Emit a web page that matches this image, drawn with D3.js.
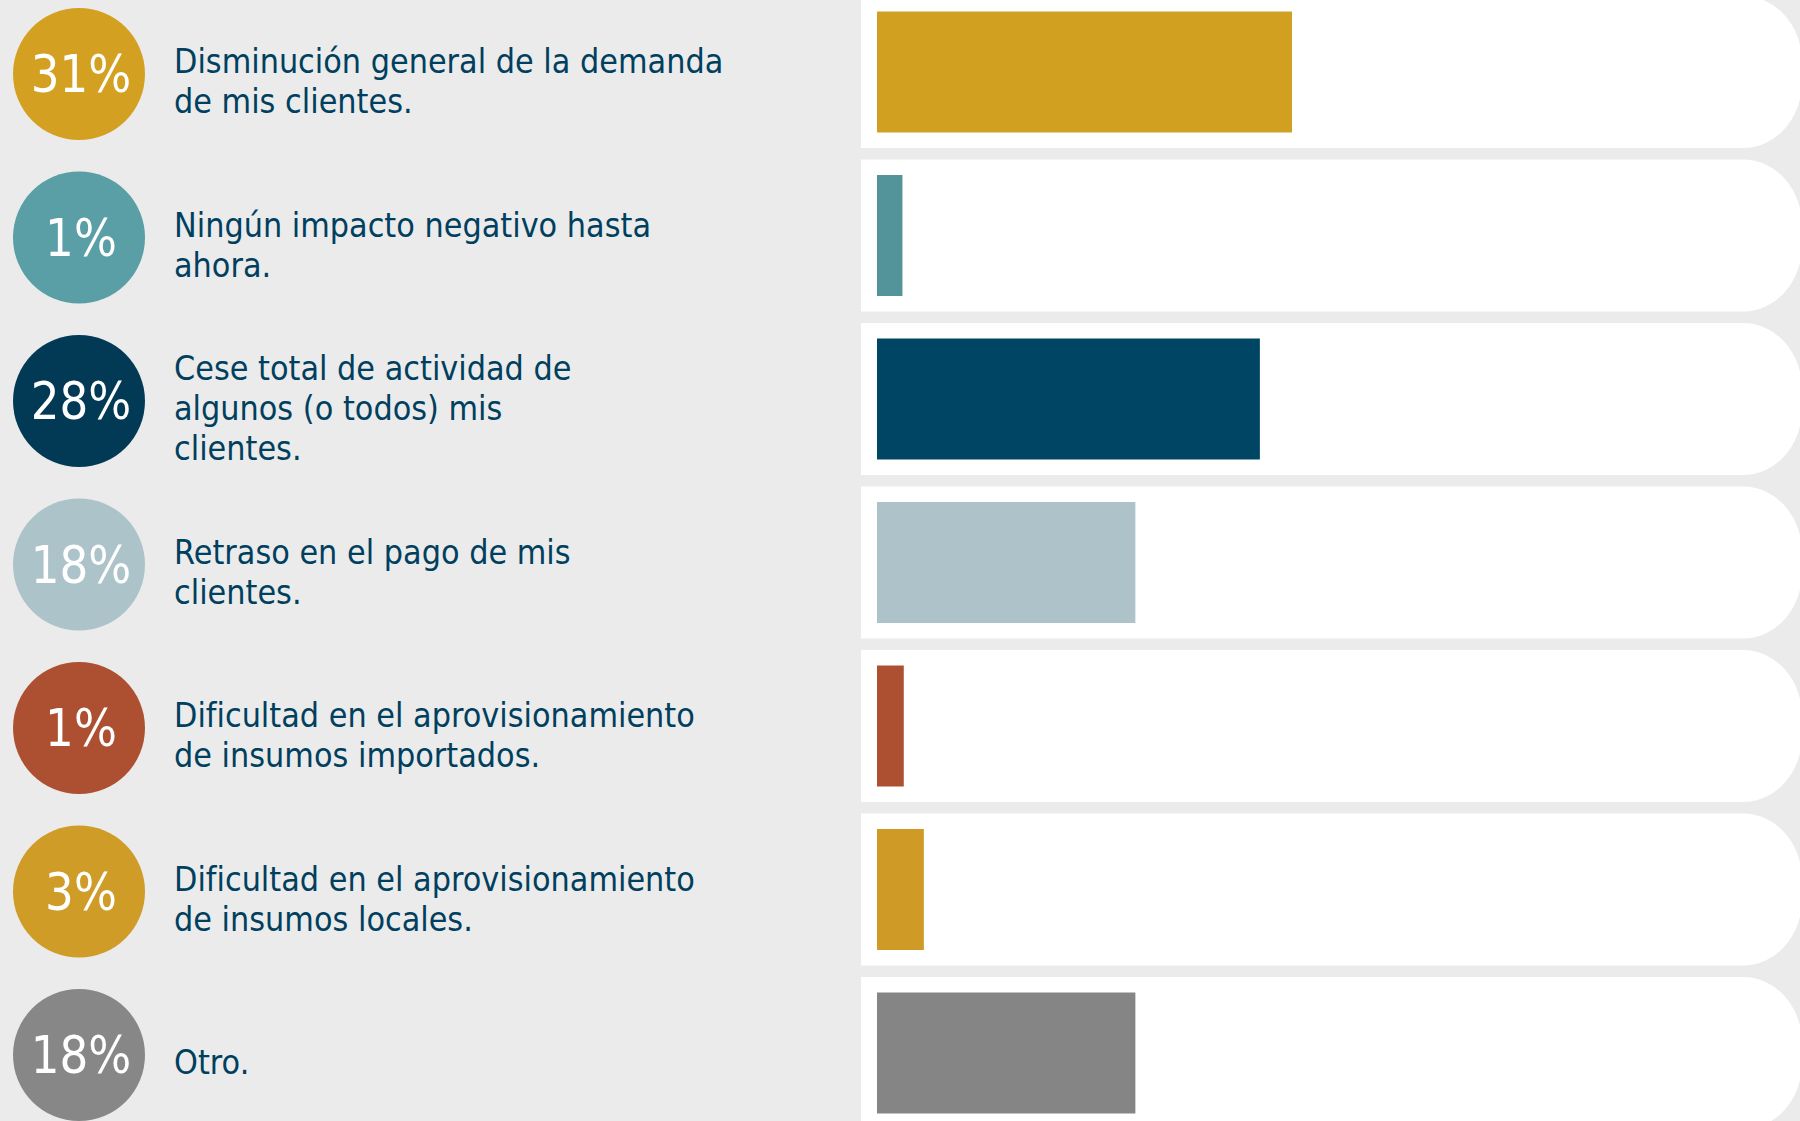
<!DOCTYPE html>
<html lang="es">
<head>
<meta charset="utf-8">
<title>Impacto en clientes</title>
<script src="https://cdn.jsdelivr.net/npm/d3@7"></script>
<style>
  html, body { margin: 0; padding: 0; background: #ebebeb; }
  svg { display: block; }
  .label { font-family: "DejaVu Sans", Verdana, sans-serif; font-size: 33px; fill: #00405e; }
  .pct { font-family: "DejaVu Sans", Verdana, sans-serif; font-size: 52px; fill: #ffffff; }
</style>
</head>
<body>
<div id="chart"></div>
<script>
// Answers, split in lines the way the slide shows them
var categories = [
  ["Disminución general de la demanda", "de mis clientes."],
  ["Ningún impacto negativo hasta", "ahora."],
  ["Cese total de actividad de", "algunos (o todos) mis", "clientes."],
  ["Retraso en el pago de mis", "clientes."],
  ["Dificultad en el aprovisionamiento", "de insumos importados."],
  ["Dificultad en el aprovisionamiento", "de insumos locales."],
  ["Otro."]
];

// Share written in each circle
var shareLabels = ["31%", "1%", "28%", "18%", "1%", "3%", "18%"];

// Bar lengths (percent)
var barValues = [31, 1.9, 28.6, 19.3, 2, 3.5, 19.3];

var circleColors = ["#d4a021", "#5a9ea6", "#023a55", "#adc3ca", "#ad5031", "#cf9c28", "#878787"];
var barColors = ["#d2a021", "#53949a", "#004664", "#adc3c9", "#ad5031", "#cf9b26", "#858585"];

// Set up chart
var svgWidth = 1800;
var svgHeight = 1121;

var svg = d3.select("#chart")
  .append("svg")
  .attr("width", svgWidth)
  .attr("height", svgHeight);

svg.append("rect")
  .attr("width", svgWidth)
  .attr("height", svgHeight)
  .attr("fill", "#ebebeb");

var rows = d3.range(categories.length);

// one row per answer (first track runs off the top edge)
var y = d3.scaleBand()
  .domain(rows)
  .range([-4, 1129])
  .paddingInner(11.5 / 163.5);
var bw = y.bandwidth();

// bar length scale
var x = d3.scaleLinear()
  .domain([0, d3.max(barValues)])
  .range([877, 1292]);

// white tracks with rounded right end
var trackLeft = 861, trackRight = 1802, rx = 59, ry = 66;
function track(i) {
  var t = y(i), b = y(i) + bw;
  return "M" + trackLeft + "," + t +
    "H" + (trackRight - rx) +
    "A" + rx + "," + ry + " 0 0 1 " + trackRight + "," + (t + ry) +
    "V" + (b - ry) +
    "A" + rx + "," + ry + " 0 0 1 " + (trackRight - rx) + "," + b +
    "H" + trackLeft + "Z";
}

svg.append("g").selectAll("path")
  .data(rows)
  .enter()
  .append("path")
  .attr("d", track)
  .attr("fill", "#ffffff");

// bars
var barH = 121;
svg.append("g").selectAll("rect")
  .data(rows)
  .enter()
  .append("rect")
  .attr("x", x(0))
  .attr("y", i => y(i) + (bw - barH) / 2)
  .attr("width", i => x(barValues[i]) - x(0))
  .attr("height", barH)
  .attr("fill", i => barColors[i]);

// circles with the percentage
var cx = 79, r = 66;
var circles = svg.append("g").selectAll("g")
  .data(rows)
  .enter()
  .append("g")
  .attr("transform", i => `translate(${cx}, ${y(i) + bw / 2 + 2})`);

circles.append("circle")
  .attr("r", r)
  .attr("fill", i => circleColors[i]);

circles.append("text")
  .attr("class", "pct")
  .attr("x", 2)
  .attr("y", 18)
  .attr("text-anchor", "middle")
  .text(i => shareLabels[i])
  .each(function() {
    // narrower face, like the slide
    var w = this.getComputedTextLength();
    d3.select(this).attr("textLength", w * 0.87).attr("lengthAdjust", "spacingAndGlyphs");
  });

// answer text
var lineH = 40;
var textX = 174;
var labels = svg.append("g").selectAll("text")
  .data(rows)
  .enter()
  .append("text")
  .attr("class", "label")
  .attr("x", textX)
  .attr("y", i => y(i) + bw / 2 + 9 - (categories[i].length - 1) * lineH / 2 + 12);

labels.selectAll("tspan")
  .data(i => categories[i])
  .enter()
  .append("tspan")
  .attr("x", textX)
  .attr("dy", (d, j) => j === 0 ? 0 : lineH)
  .text(d => d)
  .each(function() {
    // condensed like the slide's face
    var w = this.getComputedTextLength();
    d3.select(this).attr("textLength", w * 0.92).attr("lengthAdjust", "spacingAndGlyphs");
  });
</script>
</body>
</html>
